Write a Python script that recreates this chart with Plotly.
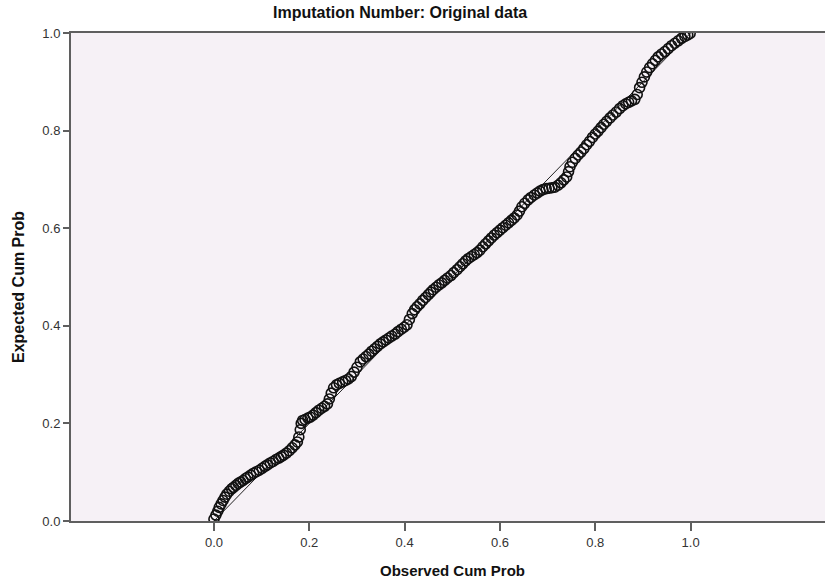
import plotly.graph_objects as go

observed = [
    0.000, 0.004, 0.008, 0.011, 0.015, 0.019, 0.023, 0.027, 0.032, 0.037,
    0.041, 0.046, 0.051, 0.056, 0.061, 0.066, 0.071, 0.077, 0.083, 0.089,
    0.095, 0.101, 0.107, 0.112, 0.118, 0.124, 0.130, 0.136, 0.141, 0.146,
    0.152, 0.158, 0.164, 0.170, 0.175, 0.178, 0.181, 0.183, 0.186, 0.191,
    0.197, 0.202, 0.208, 0.214, 0.220, 0.226, 0.232, 0.238, 0.242, 0.246,
    0.251, 0.257, 0.263, 0.270, 0.276, 0.282, 0.288, 0.294, 0.300, 0.307,
    0.313, 0.319, 0.325, 0.331, 0.337, 0.343, 0.349, 0.355, 0.361, 0.367,
    0.373, 0.380, 0.386, 0.393, 0.399, 0.405, 0.410, 0.416, 0.421, 0.426,
    0.432, 0.438, 0.444, 0.450, 0.455, 0.460, 0.466, 0.472, 0.478, 0.484,
    0.490, 0.497, 0.503, 0.510, 0.516, 0.522, 0.528, 0.534, 0.540, 0.546,
    0.552, 0.558, 0.564, 0.570, 0.576, 0.582, 0.588, 0.594, 0.600, 0.606,
    0.612, 0.618, 0.624, 0.630, 0.636, 0.641, 0.646, 0.652, 0.659, 0.665,
    0.672, 0.678, 0.684, 0.690, 0.697, 0.703, 0.709, 0.715, 0.722, 0.728,
    0.734, 0.740, 0.744, 0.747, 0.752, 0.758, 0.764, 0.770, 0.776, 0.782,
    0.788, 0.794, 0.800, 0.806, 0.812, 0.818, 0.824, 0.831, 0.837, 0.844,
    0.851, 0.858, 0.864, 0.870, 0.876, 0.883, 0.888, 0.893, 0.898, 0.903,
    0.908, 0.914, 0.920, 0.926, 0.932, 0.939, 0.946, 0.953, 0.960, 0.967,
    0.974, 0.981, 0.988, 0.994, 0.999,
]
expected = [
    0.004, 0.012, 0.020, 0.028, 0.035, 0.042, 0.049, 0.055, 0.061, 0.066,
    0.069, 0.073, 0.077, 0.080, 0.083, 0.087, 0.090, 0.094, 0.098, 0.101,
    0.104, 0.108, 0.112, 0.115, 0.119, 0.122, 0.126, 0.129, 0.132, 0.135,
    0.139, 0.144, 0.150, 0.156, 0.162, 0.172, 0.187, 0.200, 0.206, 0.208,
    0.211, 0.213, 0.217, 0.222, 0.227, 0.231, 0.235, 0.240, 0.250, 0.262,
    0.273, 0.279, 0.282, 0.285, 0.288, 0.291, 0.296, 0.305, 0.315, 0.326,
    0.332, 0.337, 0.342, 0.348, 0.353, 0.358, 0.363, 0.367, 0.371, 0.375,
    0.379, 0.383, 0.388, 0.393, 0.397, 0.402, 0.413, 0.425, 0.433, 0.439,
    0.445, 0.452, 0.458, 0.464, 0.469, 0.474, 0.479, 0.484, 0.488, 0.493,
    0.498, 0.503, 0.509, 0.515, 0.521, 0.527, 0.533, 0.538, 0.542, 0.546,
    0.550, 0.555, 0.562, 0.568, 0.574, 0.580, 0.586, 0.591, 0.596, 0.601,
    0.606, 0.611, 0.616, 0.621, 0.627, 0.635, 0.644, 0.651, 0.658, 0.663,
    0.668, 0.672, 0.676, 0.679, 0.681, 0.682, 0.683, 0.684, 0.688, 0.693,
    0.699, 0.705, 0.716, 0.726, 0.735, 0.743, 0.750, 0.756, 0.763, 0.771,
    0.778, 0.786, 0.793, 0.799, 0.806, 0.813, 0.819, 0.826, 0.832, 0.838,
    0.845, 0.851, 0.855, 0.858, 0.861, 0.864, 0.874, 0.888, 0.899, 0.910,
    0.920, 0.929, 0.937, 0.944, 0.951, 0.957, 0.962, 0.968, 0.974, 0.979,
    0.984, 0.989, 0.993, 0.996, 0.999,
]
ref_line = [0.0, 1.0]
tick_vals = [0.0, 0.2, 0.4, 0.6, 0.8, 1.0]
tick_text = ["0.0", "0.2", "0.4", "0.6", "0.8", "1.0"]

font_family = "Liberation Sans, Arial, sans-serif"
axis_col = "#5f5f5f"

fig = go.Figure()
fig.add_trace(go.Scatter(
    x=ref_line, y=ref_line, mode="lines",
    line=dict(color="#222222", width=1), hoverinfo="skip", showlegend=False,
))
fig.add_trace(go.Scatter(
    x=observed, y=expected, mode="markers",
    marker=dict(symbol="circle-open", size=10, color="#111111",
                line=dict(width=1.6, color="#111111")),
    showlegend=False,
))

fig.update_layout(
    width=825, height=588,
    margin=dict(l=71, r=0, t=33, b=67),
    paper_bgcolor="white",
    plot_bgcolor="#F6F1F6",
    font=dict(family=font_family, size=13, color="#333333"),
    xaxis=dict(
        range=[-0.3, 1.282], tickvals=tick_vals, ticktext=tick_text,
        showgrid=False, zeroline=False,
        showline=True, linecolor=axis_col, linewidth=2, mirror=True,
        ticks="outside", ticklen=8, tickwidth=2, tickcolor=axis_col,
        tickfont=dict(size=13, color="#333333"),
    ),
    yaxis=dict(
        range=[0.0, 1.0], tickvals=tick_vals, ticktext=tick_text,
        showgrid=False, zeroline=False,
        showline=True, linecolor=axis_col, linewidth=2,
        ticks="outside", ticklen=6, tickwidth=2, tickcolor=axis_col,
        tickfont=dict(size=13, color="#333333"),
    ),
    annotations=[
        dict(text="<b>Imputation Number: Original data</b>", xref="paper", yref="paper",
             x=(400 - 71) / 754, y=1, yshift=21, xanchor="center", yanchor="middle",
             showarrow=False, font=dict(size=16, color="#111111", family=font_family)),
        dict(text="<b>Observed Cum Prob</b>", xref="paper", yref="paper",
             x=0.5, y=0, xshift=4, yshift=-49, xanchor="center", yanchor="middle",
             showarrow=False, font=dict(size=15, color="#111111", family=font_family)),
        dict(text="<b>Expected Cum Prob</b>", xref="paper", yref="paper",
             x=0, y=0.5, xshift=-53, yshift=-10, xanchor="center", yanchor="middle",
             textangle=-90,
             showarrow=False, font=dict(size=16, color="#111111", family=font_family)),
    ],
)

fig.write_html("out.html")
